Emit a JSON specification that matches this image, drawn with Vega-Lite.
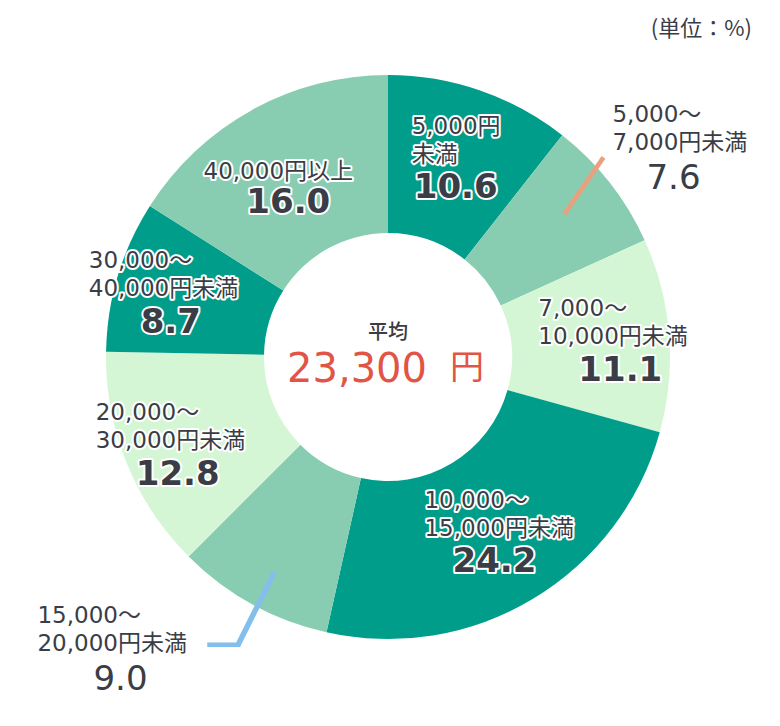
{
  "$schema": "https://vega.github.io/schema/vega-lite/v6.json",
  "width": 776,
  "height": 714,
  "padding": 0,
  "autosize": "none",
  "background": "white",
  "title": {
    "text": "(単位：%)",
    "orient": "top",
    "anchor": "end",
    "frame": "group",
    "offset": -44,
    "dx": -24,
    "dy": 18,
    "baseline": "alphabetic",
    "font": "'Noto Sans CJK JP', sans-serif",
    "fontSize": 22,
    "fontWeight": "normal",
    "color": "#3a3d45"
  },
  "layer": [
    {
      "data": {
        "values": [
          {"label": "5,000円\n未満", "share": 10.6},
          {"label": "5,000～\n7,000円未満", "share": 7.6},
          {"label": "7,000～\n10,000円未満", "share": 11.1},
          {"label": "10,000～\n15,000円未満", "share": 24.2},
          {"label": "15,000～\n20,000円未満", "share": 9.0},
          {"label": "20,000～\n30,000円未満", "share": 12.8},
          {"label": "30,000～\n40,000円未満", "share": 8.7},
          {"label": "40,000円以上", "share": 16.0}
        ]
      },
      "transform": [{"window": [{"op": "row_number", "as": "idx"}]}],
      "encoding": {
        "theta": {"field": "share", "type": "quantitative", "stack": true},
        "order": {"field": "idx", "type": "quantitative"},
        "detail": {"field": "label", "type": "nominal"}
      },
      "layer": [
        {
          "mark": {"type": "arc", "outerRadius": 282, "innerRadius": 124},
          "encoding": {
            "color": {
              "field": "label",
              "type": "nominal",
              "legend": null,
              "scale": {
                "domain": [
                  "5,000円\n未満",
                  "5,000～\n7,000円未満",
                  "7,000～\n10,000円未満",
                  "10,000～\n15,000円未満",
                  "15,000～\n20,000円未満",
                  "20,000～\n30,000円未満",
                  "30,000～\n40,000円未満",
                  "40,000円以上"
                ],
                "range": ["#009e8a", "#88cdb1", "#d5f6d4", "#009e8a", "#88cdb1", "#d5f6d4", "#009e8a", "#88cdb1"]
              }
            }
          }
        },
        {
          "mark": {
            "type": "text", "radius": 230, "dx": -79, "dy": -18,
            "font": "'DejaVu Sans', 'Noto Sans CJK JP', sans-serif",
            "fontSize": 23, "lineBreak": "\n", "lineHeight": 28,
            "align": "left", "baseline": "bottom",
            "fill": "white", "stroke": "white", "strokeWidth": 4, "strokeJoin": "round"
          },
          "encoding": {
            "text": {"condition": {"test": "datum.idx != 3 && datum.idx != 6 && datum.idx != 7", "value": ""}, "field": "label", "type": "nominal"}
          }
        },
        {
          "mark": {
            "type": "text", "radius": 230, "dx": -79, "dy": -18,
            "font": "'DejaVu Sans', 'Noto Sans CJK JP', sans-serif",
            "fontSize": 23, "lineBreak": "\n", "lineHeight": 28,
            "align": "left", "baseline": "bottom", "fill": "#3a3d45"
          },
          "encoding": {
            "text": {"condition": {"test": "datum.idx != 3 && datum.idx != 6 && datum.idx != 7", "value": ""}, "field": "label", "type": "nominal"}
          }
        },
        {
          "mark": {
            "type": "text", "radius": 207, "dx": -44, "dy": -22,
            "font": "'DejaVu Sans', 'Noto Sans CJK JP', sans-serif",
            "fontSize": 23, "lineBreak": "\n", "lineHeight": 28,
            "align": "left", "baseline": "bottom",
            "fill": "white", "stroke": "white", "strokeWidth": 4, "strokeJoin": "round"
          },
          "encoding": {
            "text": {"condition": {"test": "datum.idx != 1", "value": ""}, "field": "label", "type": "nominal"}
          }
        },
        {
          "mark": {
            "type": "text", "radius": 207, "dx": -44, "dy": -22,
            "font": "'DejaVu Sans', 'Noto Sans CJK JP', sans-serif",
            "fontSize": 23, "lineBreak": "\n", "lineHeight": 28,
            "align": "left", "baseline": "bottom", "fill": "#3a3d45"
          },
          "encoding": {
            "text": {"condition": {"test": "datum.idx != 1", "value": ""}, "field": "label", "type": "nominal"}
          }
        },
        {
          "mark": {
            "type": "text", "radius": 207, "dx": -70, "dy": -22,
            "font": "'DejaVu Sans', 'Noto Sans CJK JP', sans-serif",
            "fontSize": 23, "lineBreak": "\n", "lineHeight": 28,
            "align": "left", "baseline": "bottom",
            "fill": "white", "stroke": "white", "strokeWidth": 4, "strokeJoin": "round"
          },
          "encoding": {
            "text": {"condition": {"test": "datum.idx != 4", "value": ""}, "field": "label", "type": "nominal"}
          }
        },
        {
          "mark": {
            "type": "text", "radius": 207, "dx": -70, "dy": -22,
            "font": "'DejaVu Sans', 'Noto Sans CJK JP', sans-serif",
            "fontSize": 23, "lineBreak": "\n", "lineHeight": 28,
            "align": "left", "baseline": "bottom", "fill": "#3a3d45"
          },
          "encoding": {
            "text": {"condition": {"test": "datum.idx != 4", "value": ""}, "field": "label", "type": "nominal"}
          }
        },
        {
          "mark": {
            "type": "text", "radius": 207, "dx": -10, "dy": 8,
            "font": "'DejaVu Sans', 'Noto Sans CJK JP', sans-serif",
            "fontSize": 23, "align": "center", "baseline": "bottom",
            "fill": "white", "stroke": "white", "strokeWidth": 4, "strokeJoin": "round"
          },
          "encoding": {
            "text": {"condition": {"test": "datum.idx != 8", "value": ""}, "field": "label", "type": "nominal"}
          }
        },
        {
          "mark": {
            "type": "text", "radius": 207, "dx": -10, "dy": 8,
            "font": "'DejaVu Sans', 'Noto Sans CJK JP', sans-serif",
            "fontSize": 23, "align": "center", "baseline": "bottom", "fill": "#3a3d45"
          },
          "encoding": {
            "text": {"condition": {"test": "datum.idx != 8", "value": ""}, "field": "label", "type": "nominal"}
          }
        },
        {
          "mark": {
            "type": "text", "radius": 230, "dx": 3, "dy": 15,
            "font": "'DejaVu Sans', sans-serif", "fontSize": 34, "fontWeight": "bold",
            "align": "center", "baseline": "top",
            "fill": "white", "stroke": "white", "strokeWidth": 4, "strokeJoin": "round"
          },
          "encoding": {
            "text": {"condition": {"test": "datum.idx != 3 && datum.idx != 6 && datum.idx != 7", "value": ""}, "field": "share", "type": "quantitative", "format": ".1f"}
          }
        },
        {
          "mark": {
            "type": "text", "radius": 230, "dx": 3, "dy": 15,
            "font": "'DejaVu Sans', sans-serif", "fontSize": 34, "fontWeight": "bold",
            "align": "center", "baseline": "top", "fill": "#3a3d45"
          },
          "encoding": {
            "text": {"condition": {"test": "datum.idx != 3 && datum.idx != 6 && datum.idx != 7", "value": ""}, "field": "share", "type": "quantitative", "format": ".1f"}
          }
        },
        {
          "mark": {
            "type": "text", "radius": 207, "dx": 0, "dy": 10,
            "font": "'DejaVu Sans', sans-serif", "fontSize": 34, "fontWeight": "bold",
            "align": "center", "baseline": "top",
            "fill": "white", "stroke": "white", "strokeWidth": 4, "strokeJoin": "round"
          },
          "encoding": {
            "text": {"condition": {"test": "datum.idx != 1 && datum.idx != 4 && datum.idx != 8", "value": ""}, "field": "share", "type": "quantitative", "format": ".1f"}
          }
        },
        {
          "mark": {
            "type": "text", "radius": 207, "dx": 0, "dy": 10,
            "font": "'DejaVu Sans', sans-serif", "fontSize": 34, "fontWeight": "bold",
            "align": "center", "baseline": "top", "fill": "#3a3d45"
          },
          "encoding": {
            "text": {"condition": {"test": "datum.idx != 1 && datum.idx != 4 && datum.idx != 8", "value": ""}, "field": "share", "type": "quantitative", "format": ".1f"}
          }
        },
        {
          "mark": {
            "type": "text", "radius": 330, "dx": -35, "dy": -26,
            "font": "'DejaVu Sans', 'Noto Sans CJK JP', sans-serif",
            "fontSize": 23, "lineBreak": "\n", "lineHeight": 28,
            "align": "left", "baseline": "bottom", "fill": "#3a3d45"
          },
          "encoding": {
            "text": {"condition": {"test": "datum.idx != 2", "value": ""}, "field": "label", "type": "nominal"}
          }
        },
        {
          "mark": {
            "type": "text", "radius": 330, "dx": 26, "dy": 9,
            "font": "'DejaVu Sans', sans-serif", "fontSize": 34,
            "align": "center", "baseline": "top", "fill": "#3a3d45"
          },
          "encoding": {
            "text": {"condition": {"test": "datum.idx != 2", "value": ""}, "field": "share", "type": "quantitative", "format": ".1f"}
          }
        },
        {
          "mark": {
            "type": "text", "radius": 300, "dx": -206, "dy": 8,
            "font": "'DejaVu Sans', 'Noto Sans CJK JP', sans-serif",
            "fontSize": 23, "lineBreak": "\n", "lineHeight": 28,
            "align": "left", "baseline": "bottom", "fill": "#3a3d45"
          },
          "encoding": {
            "text": {"condition": {"test": "datum.idx != 5", "value": ""}, "field": "label", "type": "nominal"}
          }
        },
        {
          "mark": {
            "type": "text", "radius": 300, "dx": -123, "dy": 43,
            "font": "'DejaVu Sans', sans-serif", "fontSize": 34,
            "align": "center", "baseline": "top", "fill": "#3a3d45"
          },
          "encoding": {
            "text": {"condition": {"test": "datum.idx != 5", "value": ""}, "field": "share", "type": "quantitative", "format": ".1f"}
          }
        },
        {
          "mark": {
            "type": "text", "radius": 260, "angle": 34.6, "dx": -12.9, "dy": 16,
            "font": "'DejaVu Sans Mono', monospace", "fontSize": 58,
            "align": "center", "baseline": "alphabetic", "fill": "#eba07d"
          },
          "encoding": {
            "text": {"condition": {"test": "datum.idx == 2", "value": "│"}, "value": ""}
          }
        },
        {
          "mark": {
            "type": "text", "radius": 260, "angle": 26.6, "dx": 4.9, "dy": 48.5,
            "font": "'DejaVu Sans Mono', monospace", "fontSize": 69,
            "align": "center", "baseline": "alphabetic", "fill": "#84bfec"
          },
          "encoding": {
            "text": {"condition": {"test": "datum.idx == 5", "value": "│"}, "value": ""}
          }
        },
        {
          "mark": {
            "type": "text", "radius": 260, "dx": -38.7, "dy": 78.5,
            "font": "'DejaVu Sans Mono', monospace", "fontSize": 53,
            "align": "center", "baseline": "alphabetic", "fill": "#84bfec"
          },
          "encoding": {
            "text": {"condition": {"test": "datum.idx == 5", "value": "─"}, "value": ""}
          }
        }
      ]
    },
    {
      "data": {"values": [{"stat": "平均", "yen": 23300}]},
      "layer": [
        {
          "mark": {
            "type": "text", "dy": -24, "baseline": "middle", "align": "center",
            "font": "'Noto Sans CJK JP', sans-serif", "fontSize": 20, "fontWeight": 500,
            "fill": "#3a3d45"
          },
          "encoding": {"text": {"field": "stat", "type": "nominal"}}
        },
        {
          "mark": {
            "type": "text", "dx": 39, "dy": 25, "baseline": "alphabetic", "align": "right",
            "font": "'DejaVu Sans', sans-serif", "fontSize": 40, "fill": "#e05545"
          },
          "encoding": {"text": {"field": "yen", "type": "quantitative", "format": ","}}
        },
        {
          "mark": {
            "type": "text", "text": "円", "dx": 62, "dy": 22, "baseline": "alphabetic", "align": "left",
            "font": "'Noto Sans CJK JP', sans-serif", "fontSize": 34, "fill": "#e05545"
          },
          "encoding": {}
        }
      ]
    }
  ]
}
